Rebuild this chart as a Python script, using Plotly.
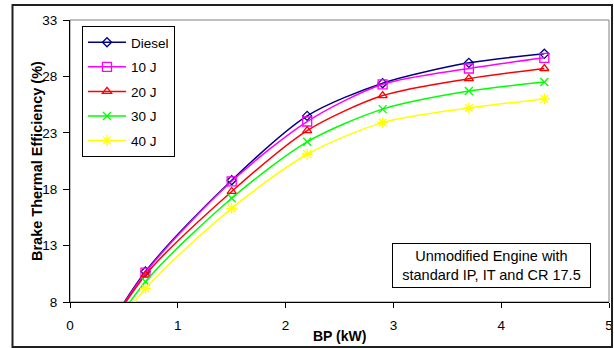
import plotly.graph_objects as go

# Brake power (kW); first point (no load) lies below the visible axis range
bp = [0.0, 0.7, 1.5, 2.2, 2.9, 3.7, 4.4]

diesel = [0.0, 10.7, 18.8, 24.5, 27.4, 29.2, 30.0]
j10 = [0.0, 10.6, 18.7, 24.0, 27.3, 28.7, 29.65]
j20 = [0.0, 10.4, 17.8, 23.2, 26.3, 27.8, 28.7]
j30 = [0.0, 9.8, 17.2, 22.2, 25.1, 26.7, 27.5]
j40 = [0.0, 9.2, 16.3, 21.1, 23.9, 25.2, 26.0]

series_names = ["Diesel", "10 J", "20 J", "30 J", "40 J"]
series_values = [diesel, j10, j20, j30, j40]
colors = ["#000080", "#FF00FF", "#FF0000", "#00FF00", "#FFFF00"]
symbols = ["diamond-open", "square-open", "triangle-up-open", "x-thin-open", "asterisk-open"]
msizes = [7, 9, 8, 8, 9]

x_ticks = [0, 1, 2, 3, 4, 5]
y_ticks = [8, 13, 18, 23, 28, 33]

FONT = "Liberation Sans, Arial, sans-serif"

fig = go.Figure()
for name, vals, c, s, ms in zip(series_names, series_values, colors, symbols, msizes):
    fig.add_trace(go.Scatter(
        x=bp, y=vals, name=name, mode="lines+markers",
        line=dict(color=c, width=1.5, shape="spline", smoothing=0.8),
        marker=dict(symbol=s, size=ms, color=c, line=dict(color=c, width=1.3)),
        legendgroup=name,
    ))

W, H = 614, 348
L, R, T, B = 70, 5, 20, 46
pw, ph = W - L - R, H - T - B

def px_x(p):
    return (p - L) / pw

def px_y(p):
    return (H - B - p) / ph

fig.update_layout(
    width=W, height=H,
    margin=dict(l=L, r=R, t=T, b=B, autoexpand=False),
    paper_bgcolor="white", plot_bgcolor="white",
    font=dict(family=FONT, size=13, color="black"),
    showlegend=True,
    legend=dict(
        x=px_x(82), y=px_y(26), xanchor="left", yanchor="top",
        bgcolor="white", bordercolor="black", borderwidth=1,
        font=dict(family=FONT, size=13.5, color="black"),
        tracegroupgap=4, itemwidth=38,
    ),
    xaxis=dict(
        range=[0, 5], tickvals=x_ticks, ticktext=[str(v) for v in x_ticks],
        ticks="outside", ticklen=5, tickcolor="black", tickwidth=1,
        showline=True, linecolor="black", linewidth=1,
        showgrid=False, zeroline=False, ticklabelstandoff=6,
        tickfont=dict(size=13.5),
    ),
    yaxis=dict(
        range=[8, 33], tickvals=y_ticks, ticktext=[str(v) for v in y_ticks],
        ticks="outside", ticklen=6, tickcolor="black", tickwidth=1,
        showline=True, linecolor="black", linewidth=1,
        showgrid=False, zeroline=False, ticklabelstandoff=3,
        tickfont=dict(size=13.5),
    ),
)

# plot-area border (gray top/right)
fig.add_shape(type="rect", xref="paper", yref="paper", x0=0, y0=0, x1=1, y1=1,
              line=dict(color="#808080", width=1), layer="below")
# outer chart frame
fig.add_shape(type="rect", xref="paper", yref="paper",
              x0=px_x(12.5), x1=px_x(612), y0=px_y(347), y1=px_y(5),
              line=dict(color="#202020", width=2))

# axis titles
fig.add_annotation(text="<b>Brake Thermal Efficiency (%)</b>", textangle=-90,
                   xref="paper", yref="paper", x=px_x(37), y=0.5,
                   xanchor="center", yanchor="middle", showarrow=False,
                   font=dict(family=FONT, size=14.5, color="black"))
fig.add_annotation(text="<b>BP (kW)</b>",
                   xref="paper", yref="paper", x=0.5, y=px_y(336),
                   xanchor="center", yanchor="middle", showarrow=False,
                   font=dict(family=FONT, size=14, color="black"))

# note box
fig.add_annotation(text="Unmodified Engine with<br>standard IP, IT and CR 17.5",
                   xref="paper", yref="paper", x=px_x(491.5), y=px_y(265.5),
                   xanchor="center", yanchor="middle", showarrow=False,
                   width=191, height=37, borderpad=3, borderwidth=1,
                   bordercolor="black", bgcolor="white", align="center",
                   font=dict(family=FONT, size=14.5, color="black"))

fig.write_html("out.html", config={"displayModeBar": False},
               post_script="document.body.style.margin='0';document.body.style.overflow='hidden';")
